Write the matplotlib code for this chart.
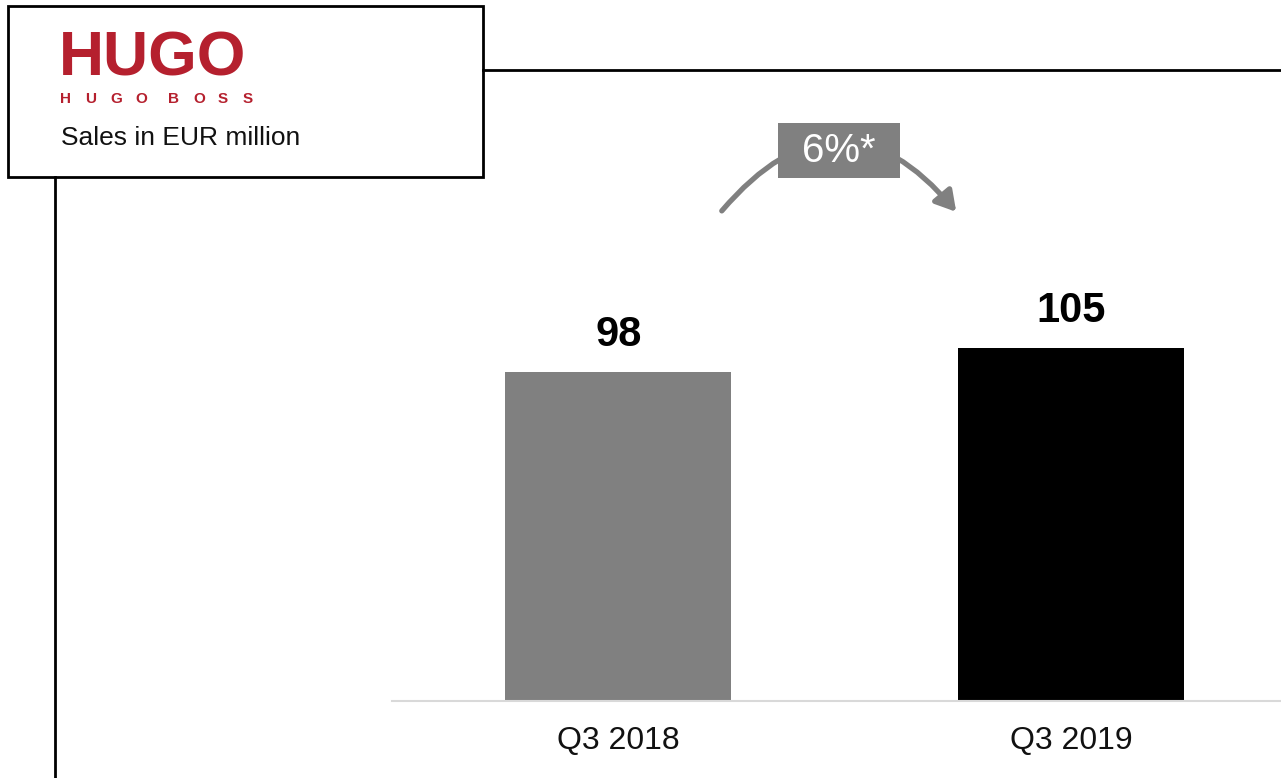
import matplotlib.pyplot as plt
from matplotlib.patches import Rectangle, FancyArrowPatch
from matplotlib.lines import Line2D

# --- data ---
periods = ["Q3 2018", "Q3 2019"]
sales = [98, 105]
bar_colors = ["#808080", "#000000"]
growth_label = "6%*"
subtitle = "Sales in EUR million"
brand = "HUGO"
brand_small = ["H", "U", "G", "O", "", "B", "O", "S", "S"]

sans = ["Liberation Sans", "DejaVu Sans"]
red = "#b5202e"

fig = plt.figure(figsize=(12.81, 7.78), dpi=100)
W, H = 1281, 778

def fx(px):
    return px / W

def fy(py):
    return 1 - py / H

# --- bar chart ---
ax = fig.add_axes([fx(392), fy(701), 1 - fx(392), 0.648])
x = list(range(len(periods)))
bars = ax.bar(x, sales, width=0.5, color=bar_colors)
ax.set_xlim(-0.5, 1.464)
ax.set_ylim(0, 150)
for rect, v in zip(bars, sales):
    ax.text(rect.get_x() + rect.get_width() / 2, v + 5, str(v),
            ha="center", va="bottom", fontsize=30, fontweight="bold",
            family=sans)
ax.set_xticks(x)
ax.set_xticklabels(periods, fontsize=23, family=sans, color="#111111")
ax.tick_params(axis="x", length=0, pad=18)
ax.set_yticks([])
for s in ["top", "right", "left"]:
    ax.spines[s].set_visible(False)
ax.spines["bottom"].set_color("#d9d9d9")
ax.spines["bottom"].set_linewidth(1.5)

# --- frame lines ---
fig.add_artist(Rectangle((fx(8), fy(177)), fx(483) - fx(8), fy(6) - fy(177),
                         transform=fig.transFigure, fill=False,
                         edgecolor="black", linewidth=2))
fig.add_artist(Line2D([fx(483), 1], [fy(70), fy(70)], color="black", linewidth=2,
                      transform=fig.transFigure))
fig.add_artist(Line2D([fx(55), fx(55)], [fy(177), 0], color="black", linewidth=2,
                      transform=fig.transFigure))

# --- logo and subtitle ---
fig.text(fx(59), fy(89), brand, color=red, fontsize=45, fontweight="bold",
         family=sans, va="bottom")
xpos = 60
for ch in brand_small:
    if ch:
        fig.text(fx(xpos), fy(103), ch, color=red, fontsize=11,
                 fontweight="bold", family=sans, va="baseline")
        xpos += 25
    else:
        xpos += 8
fig.text(fx(61), fy(145), subtitle, fontsize=19, color="#111111",
         family=sans, va="baseline")

# --- growth arrow ---
arrow = FancyArrowPatch((fx(720), fy(213)), (fx(958), fy(214)),
                        transform=fig.transFigure,
                        connectionstyle="arc3,rad=-0.6",
                        arrowstyle="-|>,head_length=12,head_width=7",
                        color="#808080", linewidth=3.8)
fig.add_artist(arrow)
fig.add_artist(Rectangle((fx(778), fy(178)), fx(900) - fx(778), fy(123) - fy(178),
                         transform=fig.transFigure, facecolor="#808080",
                         edgecolor="none"))
fig.text(fx(839), fy(151), growth_label, ha="center", va="center",
         fontsize=29, color="white", family=sans)

fig.savefig("out.png", dpi=100)
